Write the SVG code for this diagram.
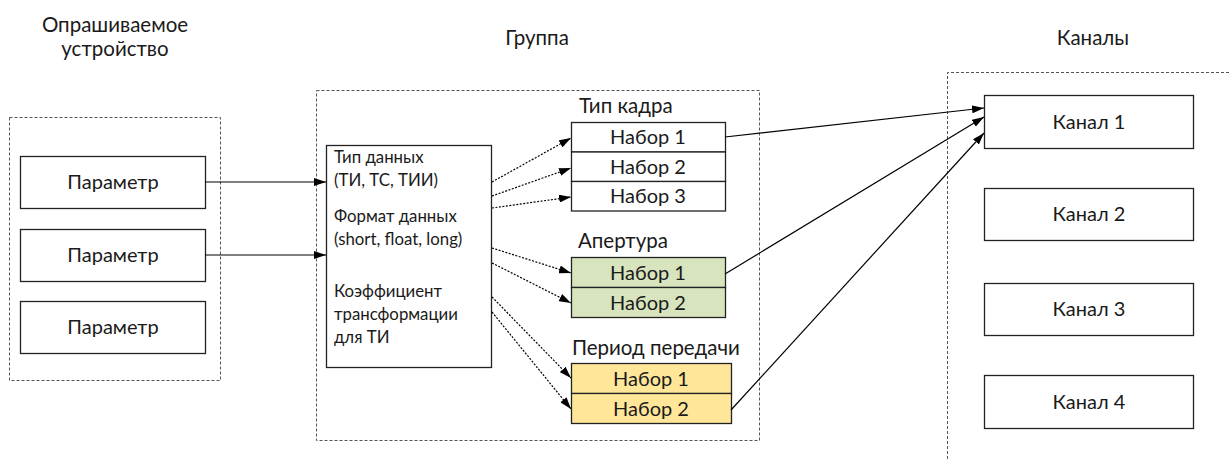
<svg xmlns="http://www.w3.org/2000/svg" width="1229" height="461" viewBox="0 0 1229 461">
  <defs>
    <style>
      text { font-family: Lato, "Liberation Sans", "DejaVu Sans", sans-serif; fill: #1a1a1a; }
      .lbl { font-size: 20px; text-anchor: middle; }
      .head { font-size: 20.5px; text-anchor: middle; }
      .title { font-size: 20.5px; }
      .small { font-size: 16.8px; }
      .frame { fill: none; stroke: #555; stroke-width: 1; stroke-dasharray: 3 2; }
      .box { fill: #fff; stroke: #222; stroke-width: 1.3; }
      .green { fill: #d7e4bd; stroke: #222; stroke-width: 1.3; }
      .yellow { fill: #ffe699; stroke: #222; stroke-width: 1.3; }
      .solid { fill: none; stroke: #000; stroke-width: 1.2; marker-end: url(#arrow); }
      .dotted { fill: none; stroke: #000; stroke-width: 1.2; stroke-dasharray: 2 1.5; marker-end: url(#arrow); }
    </style>
    <marker id="arrow" viewBox="0 0 12 8" refX="12" refY="4" markerWidth="12" markerHeight="8" markerUnits="userSpaceOnUse" orient="auto">
      <path d="M0,0 L12,4 L0,8 z" fill="#000"/>
    </marker>
  </defs>

  <!-- section headings -->
  <text class="head" x="115" y="32">Опрашиваемое</text>
  <text class="head" x="115" y="56">устройство</text>
  <text class="head" x="537" y="45">Группа</text>
  <text class="head" x="1093" y="45">Каналы</text>

  <!-- dashed frames -->
  <rect class="frame" x="9.5" y="117.5" width="211" height="263"/>
  <rect class="frame" x="316.5" y="90.5" width="443" height="350"/>
  <path class="frame" d="M1229,72.5 H947.5 V461"/>

  <!-- polled device parameters -->
  <g id="param1">
    <rect class="box" x="20.5" y="156.5" width="185" height="52"/>
    <text class="lbl" x="113" y="189">Параметр</text>
  </g>
  <g id="param2">
    <rect class="box" x="20.5" y="229.5" width="185" height="52"/>
    <text class="lbl" x="113" y="262">Параметр</text>
  </g>
  <g id="param3">
    <rect class="box" x="20.5" y="301.5" width="185" height="52"/>
    <text class="lbl" x="113" y="334">Параметр</text>
  </g>

  <!-- group properties -->
  <g id="props">
    <rect class="box" x="326.5" y="145.5" width="165" height="222"/>
    <text class="small" x="334" y="163">Тип данных</text>
    <text class="small" x="334" y="186">(ТИ, ТС, ТИИ)</text>
    <text class="small" x="334" y="222">Формат данных</text>
    <text class="small" x="334" y="245">(short, float, long)</text>
    <text class="small" x="334" y="297">Коэффициент</text>
    <text class="small" x="334" y="320">трансформации</text>
    <text class="small" x="334" y="343">для ТИ</text>
  </g>

  <!-- frame type sets -->
  <g id="frametype">
    <text class="title" x="579" y="113">Тип кадра</text>
    <rect class="box" x="571.5" y="122.5" width="154" height="29.5"/>
    <rect class="box" x="571.5" y="152" width="154" height="29.5"/>
    <rect class="box" x="571.5" y="181.5" width="154" height="29.5"/>
    <text class="lbl" x="648" y="144">Набор 1</text>
    <text class="lbl" x="648" y="174">Набор 2</text>
    <text class="lbl" x="648" y="203">Набор 3</text>
  </g>

  <!-- aperture sets -->
  <g id="aperture">
    <text class="title" x="578" y="248">Апертура</text>
    <rect class="green" x="571.5" y="257.5" width="154" height="30"/>
    <rect class="green" x="571.5" y="287.5" width="154" height="30"/>
    <text class="lbl" x="648" y="280">Набор 1</text>
    <text class="lbl" x="648" y="310">Набор 2</text>
  </g>

  <!-- transmission period sets -->
  <g id="period">
    <text class="title" x="572" y="355">Период передачи</text>
    <rect class="yellow" x="571.5" y="363.5" width="160" height="30"/>
    <rect class="yellow" x="571.5" y="393.5" width="160" height="30"/>
    <text class="lbl" x="651" y="386">Набор 1</text>
    <text class="lbl" x="651" y="416">Набор 2</text>
  </g>

  <!-- channels -->
  <g id="ch1">
    <rect class="box" x="984.5" y="95.5" width="209" height="53"/>
    <text class="lbl" x="1089" y="129">Канал 1</text>
  </g>
  <g id="ch2">
    <rect class="box" x="984.5" y="188.5" width="209" height="52"/>
    <text class="lbl" x="1089" y="221">Канал 2</text>
  </g>
  <g id="ch3">
    <rect class="box" x="984.5" y="283.5" width="209" height="52"/>
    <text class="lbl" x="1089" y="316">Канал 3</text>
  </g>
  <g id="ch4">
    <rect class="box" x="984.5" y="375.5" width="209" height="53"/>
    <text class="lbl" x="1089" y="409">Канал 4</text>
  </g>

  <!-- connectors -->
  <g id="connectors">
    <path class="solid" d="M205,182 H326"/>
    <path class="solid" d="M205,255 H326"/>

    <path class="dotted" d="M492,182 L571,138"/>
    <path class="dotted" d="M492,196 L571,168"/>
    <path class="dotted" d="M492,208 L571,197"/>
    <path class="dotted" d="M492,248 L571,273"/>
    <path class="dotted" d="M492,263 L571,303"/>
    <path class="dotted" d="M492,297 L571,378"/>
    <path class="dotted" d="M492,312 L571,409"/>

    <path class="solid" d="M725,137 L984,108"/>
    <path class="solid" d="M725,274 L984,117"/>
    <path class="solid" d="M731,410 L984,133"/>
  </g>
</svg>
